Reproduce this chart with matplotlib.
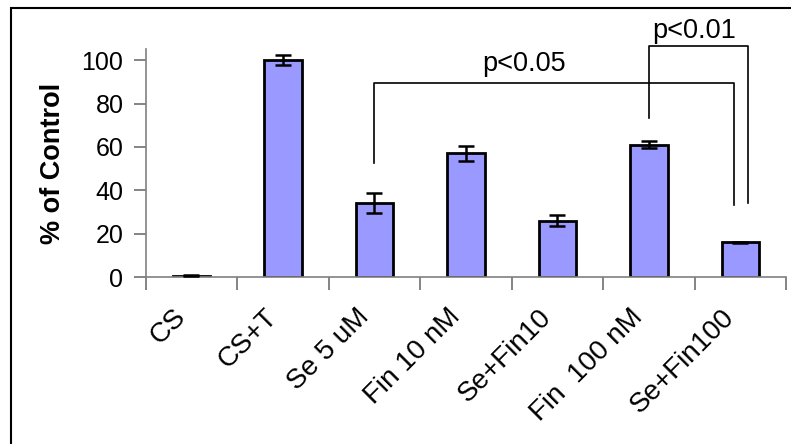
import matplotlib
matplotlib.use("Agg")
import matplotlib.pyplot as plt
from matplotlib.patches import Rectangle
from matplotlib.transforms import ScaledTranslation

groups = ["CS", "CS+T", "Se 5 uM", "Fin 10 nM", "Se+Fin10", "Fin  100 nM", "Se+Fin100"]
values = [0.5, 100, 34, 57, 26, 61, 16]
errors = [0.2, 2.3, 4.6, 3.5, 2.5, 1.6, 0.3]
yticks = [0, 20, 40, 60, 80, 100]

# significance brackets: (x left, x right, y bar, y left end, y right end, label, label x, label y)
brackets = [
    (2.0, 5.93, 89.4, 52.5, 33.2, "p<0.05", 3.64, 98.3),
    (5.0, 6.08, 106.6, 73.5, 34.0, "p<0.01", 5.5, 113.3),
]

plt.rcParams['font.family'] = ['Liberation Sans', 'DejaVu Sans']

fig = plt.figure(figsize=(7.91, 4.44), dpi=100)
ax = fig.add_axes([0.1842, 0.3761, 0.8095, 0.5128])

x = list(range(len(groups)))
ax.bar(x, values, width=0.41, color="#9999ff", edgecolor="black", linewidth=2, zorder=2)
ax.errorbar(x, values, yerr=errors, fmt="none", ecolor="black", elinewidth=1.8,
            capsize=6, capthick=1.8, zorder=3)

for xl, xr, yb, yl, yr, lab, lx, ly in brackets:
    ax.plot([xl, xl, xr, xr], [yl, yb, yb, yr], color="black", lw=1.2,
            clip_on=False, zorder=4)
    ax.text(lx, ly, lab, ha="center", va="center", fontsize=19.5, clip_on=False)

ax.set_xlim(-0.5, len(groups) - 0.5)
ax.set_ylim(0, 105)
ax.set_yticks(yticks)
ax.set_yticklabels([str(v) for v in yticks], fontsize=18)
ax.set_xticks([i + 0.5 for i in range(-1, len(groups))])
ax.set_xticklabels([])

# rotated category labels, top-right end a little left of the bar centre
label_tr = ax.get_xaxis_transform() + ScaledTranslation(-19 / 100, -27 / 100, fig.dpi_scale_trans)
for xi, name in zip(x, groups):
    ax.text(xi, 0, name, transform=label_tr, rotation=45, ha="right", va="top",
            rotation_mode="anchor", fontsize=20)

ax.tick_params(axis="x", direction="out", length=9, width=1.2, color="#707070")
ax.tick_params(axis="y", direction="out", length=9, width=1.2, color="#707070", pad=7)

for side in ["top", "right"]:
    ax.spines[side].set_visible(False)
for side in ["left", "bottom"]:
    ax.spines[side].set_color("#808080")
    ax.spines[side].set_linewidth(1.2)

ax.set_ylabel("% of Control", fontsize=19.5, fontweight="bold", labelpad=11)

fig.add_artist(Rectangle((10.5 / 791, -0.1), 1.2, 1.1 - 8.5 / 444, transform=fig.transFigure,
                         fill=False, edgecolor="black", linewidth=1.5))

fig.savefig("out.png", dpi=100)
